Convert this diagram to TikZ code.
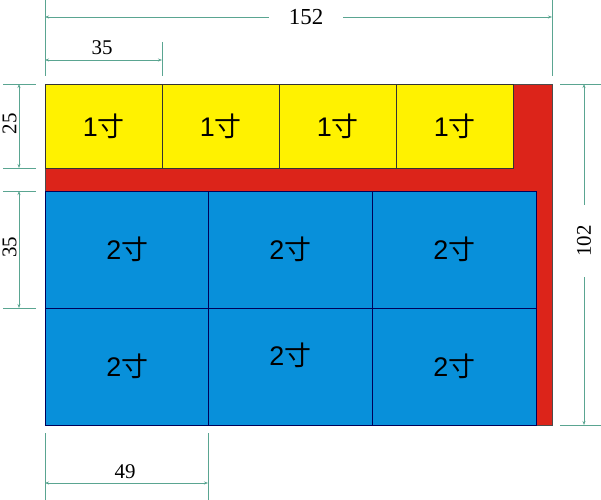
\documentclass[tikz,border=0pt]{standalone}
\usepackage{fontspec}
\setmainfont{Liberation Sans}
\newfontfamily\dimfont{Liberation Serif}
\newfontfamily\cjk{Noto Sans CJK SC}
\usetikzlibrary{arrows.meta}
\definecolor{cunyellow}{RGB}{255,242,0}
\definecolor{cunred}{RGB}{220,36,26}
\definecolor{cunblue}{RGB}{8,144,218}
\definecolor{dimline}{RGB}{90,165,145}
\tikzset{
  board/.style={shape=rectangle, draw=black!70, line width=0.5bp, fill=cunred, anchor=north west, inner sep=0pt, minimum width=507bp, minimum height=341bp},
  small/.style={shape=rectangle, draw=black!80, line width=0.5bp, fill=cunyellow, anchor=north west, inner sep=0pt, minimum width=117bp, minimum height=84bp, font=\fontsize{27}{27}\selectfont},
  big/.style={small, draw=blue!35!black, fill=cunblue, minimum width=164bp, minimum height=117bp},
  ext/.style={draw=dimline, line width=0.6bp},
  dim/.style={ext, {Stealth[length=4bp,width=3bp]}-{Stealth[length=4bp,width=3bp]}},
  dimtext/.style={font=\dimfont\fontsize{21}{21}\selectfont, inner sep=2bp},
}
\begin{document}
\begin{tikzpicture}[x=1bp,y=-1bp]
\useasboundingbox (0,0) rectangle (601,500);
\node[board] (frame) at (45,84) {};
\node[small] (y1) at (45,84) {1{\cjk 寸}};
\node[small] (y2) at (162,84) {1{\cjk 寸}};
\node[small] (y3) at (279,84) {1{\cjk 寸}};
\node[small] (y4) at (396,84) {1{\cjk 寸}};
\node[big] (b11) at (45,191) {2{\cjk 寸}};
\node[big] (b12) at (208,191) {2{\cjk 寸}};
\node[big] (b13) at (372,191) {2{\cjk 寸}};
\node[big] (b21) at (45,308) {2{\cjk 寸}};
\node[big] (b22) at (208,308) {\raisebox{26bp}{2{\cjk 寸}}};
\node[big] (b23) at (372,308) {2{\cjk 寸}};

% top
\coordinate (t1a) at (45,0);   \coordinate (t1b) at (45,76);
\coordinate (t2a) at (552,0);  \coordinate (t2b) at (552,76);
\coordinate (t3a) at (162,42); \coordinate (t3b) at (162,76);
\coordinate (d1a) at (45,17);  \coordinate (d1b) at (552,17);
\coordinate (d2a) at (45,60);  \coordinate (d2b) at (162,60);
\draw[ext] (t1a) -- (t1b);
\draw[ext] (t2a) -- (t2b);
\draw[ext] (t3a) -- (t3b);
\draw[dim] (d1a) -- node[dimtext, pos=0.515, fill=white, inner xsep=20bp, font=\dimfont\fontsize{23}{23}\selectfont] (n152) {152} (d1b);
\draw[dim] (d2a) -- (d2b);
\node[dimtext] (n35a) at (102,48) {35};

% left
\coordinate (l1a) at (3,84);  \coordinate (l1b) at (36,84);
\coordinate (l2a) at (3,168); \coordinate (l2b) at (36,168);
\coordinate (l3a) at (3,191); \coordinate (l3b) at (36,191);
\coordinate (l4a) at (3,308); \coordinate (l4b) at (36,308);
\coordinate (d3a) at (19,84);  \coordinate (d3b) at (19,168);
\coordinate (d4a) at (19,191); \coordinate (d4b) at (19,308);
\draw[ext] (l1a) -- (l1b);
\draw[ext] (l2a) -- (l2b);
\draw[ext] (l3a) -- (l3b);
\draw[ext] (l4a) -- (l4b);
\draw[dim] (d3a) -- (d3b);
\draw[dim] (d4a) -- (d4b);
\node[dimtext, rotate=90] (n25) at (9.5,124) {25};
\node[dimtext, rotate=90] (n35b) at (9.5,247) {35};

% right
\coordinate (r1a) at (560,84);  \coordinate (r1b) at (601,84);
\coordinate (r2a) at (560,425); \coordinate (r2b) at (601,425);
\coordinate (d5a) at (584,84);  \coordinate (d5b) at (584,425);
\draw[ext] (r1a) -- (r1b);
\draw[ext] (r2a) -- (r2b);
\draw[dim] (d5a) -- node[dimtext, pos=0.46, fill=white, rotate=90, inner xsep=20bp] (n102) {102} (d5b);

% bottom
\coordinate (u1a) at (45,433);  \coordinate (u1b) at (45,500);
\coordinate (u2a) at (208,433); \coordinate (u2b) at (208,500);
\coordinate (d6a) at (45,483);  \coordinate (d6b) at (208,483);
\draw[ext] (u1a) -- (u1b);
\draw[ext] (u2a) -- (u2b);
\draw[dim] (d6a) -- (d6b);
\node[dimtext] (n49) at (125,472) {49};
\end{tikzpicture}
\end{document}
